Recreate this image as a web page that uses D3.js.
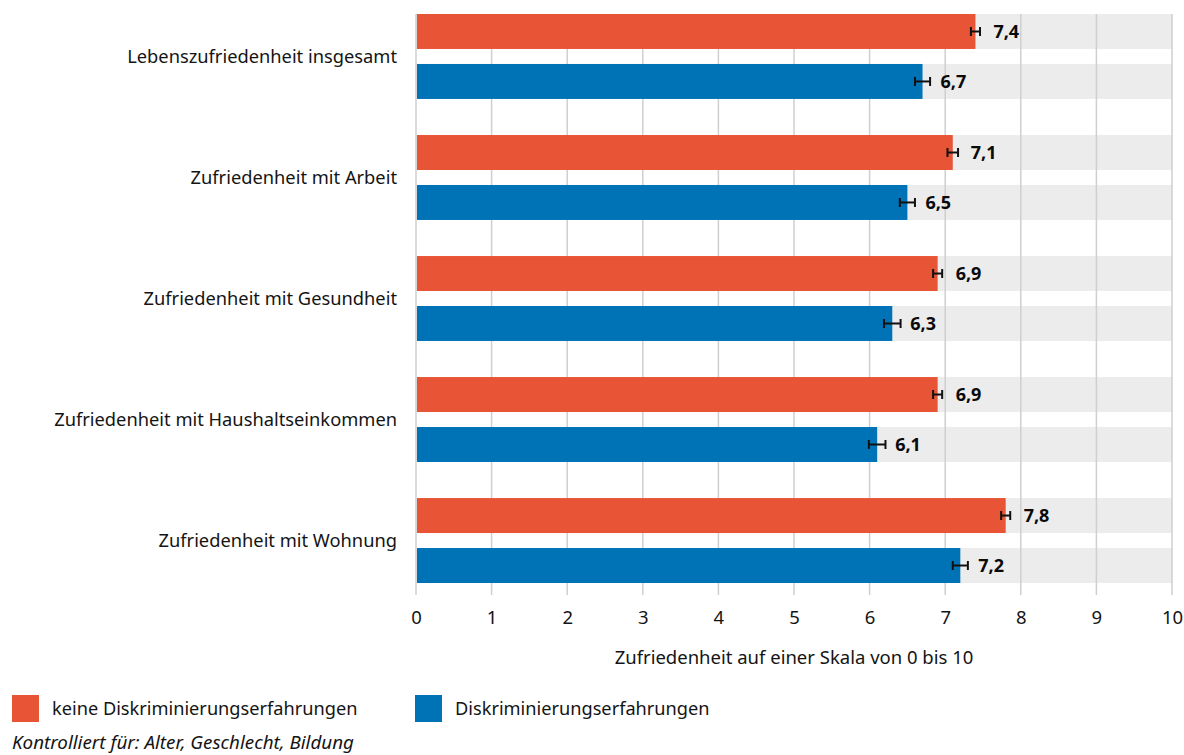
<!DOCTYPE html>
<html lang="de">
<head>
<meta charset="utf-8">
<script src="https://cdn.jsdelivr.net/npm/d3@7"></script>
<style>
  html, body { margin: 0; padding: 0; background: #fff; }
  svg { display: block; font-family: "Noto Sans", "Open Sans", sans-serif; }
</style>
</head>
<body>
<svg id="chart" width="1184" height="755"></svg>
<script>
// Zufriedenheit nach Diskriminierungserfahrung (Skala 0–10)
const categories = [
  "Lebenszufriedenheit insgesamt",
  "Zufriedenheit mit Arbeit",
  "Zufriedenheit mit Gesundheit",
  "Zufriedenheit mit Haushaltseinkommen",
  "Zufriedenheit mit Wohnung"
];
const seriesNames = ["keine Diskriminierungserfahrungen", "Diskriminierungserfahrungen"];
const seriesColors = ["#e85536", "#0073b7"];
const keineValues = [7.4, 7.1, 6.9, 6.9, 7.8];
const diskValues  = [6.7, 6.5, 6.3, 6.1, 7.2];
// Halbe Breite der Konfidenzintervalle
const keineErrors = [0.06, 0.07, 0.06, 0.06, 0.06];
const diskErrors  = [0.10, 0.10, 0.11, 0.11, 0.10];
const xTicks = [0, 1, 2, 3, 4, 5, 6, 7, 8, 9, 10];
const xTitle = "Zufriedenheit auf einer Skala von 0 bis 10";
const footnote = "Kontrolliert für: Alter, Geschlecht, Bildung";

const seriesValues = [keineValues, diskValues];
const seriesErrors = [keineErrors, diskErrors];

const rows = categories.flatMap((c, i) => seriesNames.map((s, j) => ({
  category: c, series: s, si: j,
  value: seriesValues[j][i], err: seriesErrors[j][i]
})));

const de = d3.formatLocale({ decimal: ",", thousands: ".", grouping: [3], currency: ["", " €"] });
const fmt = de.format(".1f");

const svg = d3.select("#chart");
const x = d3.scaleLinear().domain([0, 10]).range([416, 1172]);
const y0 = d3.scaleBand().domain(categories).range([14, 583]).paddingInner(0.298);
const y1 = d3.scaleBand().domain(seriesNames).range([0, y0.bandwidth()]).paddingInner(0.3);
const gridBottom = 595;
const textColor = "#141414";

// grey background bands
svg.append("g").selectAll("rect").data(rows).join("rect")
  .attr("x", x(0)).attr("width", x(10) - x(0))
  .attr("y", d => y0(d.category) + y1(d.series))
  .attr("height", y1.bandwidth())
  .attr("fill", "#ebeceb");

// vertical gridlines
svg.append("g").selectAll("line").data(xTicks).join("line")
  .attr("x1", d => x(d)).attr("x2", d => x(d))
  .attr("y1", y0.range()[0]).attr("y2", gridBottom)
  .attr("stroke", "#cfcfcf").attr("stroke-width", 1.5);

// bars
svg.append("g").selectAll("rect").data(rows).join("rect")
  .attr("x", x(0) + 1)
  .attr("width", d => x(d.value) - x(0) - 1)
  .attr("y", d => y0(d.category) + y1(d.series))
  .attr("height", y1.bandwidth())
  .attr("fill", d => seriesColors[d.si]);

// error bars
const eb = svg.append("g").attr("stroke", "#111").attr("stroke-width", 2).attr("fill", "none");
rows.forEach(d => {
  const cy = y0(d.category) + y1(d.series) + y1.bandwidth() / 2;
  const xa = x(d.value - d.err), xb = x(d.value + d.err);
  eb.append("line").attr("x1", xa).attr("x2", xb).attr("y1", cy).attr("y2", cy);
  eb.append("line").attr("x1", xa).attr("x2", xa).attr("y1", cy - 4.5).attr("y2", cy + 4.5);
  eb.append("line").attr("x1", xb).attr("x2", xb).attr("y1", cy - 4.5).attr("y2", cy + 4.5);
});

// value labels
svg.append("g").selectAll("text").data(rows).join("text")
  .attr("x", d => x(d.value) + 18)
  .attr("y", d => y0(d.category) + y1(d.series) + y1.bandwidth() / 2)
  .attr("dy", "0.36em")
  .attr("font-size", 18).attr("font-weight", 700).attr("fill", "#0a0a0a")
  .text(d => fmt(d.value));

// category labels
svg.append("g").selectAll("text").data(categories).join("text")
  .attr("x", 397)
  .attr("y", d => y0(d) + y0.bandwidth() / 2)
  .attr("dy", "0.36em")
  .attr("text-anchor", "end")
  .attr("font-size", 18.3).attr("fill", textColor)
  .text(d => d);

// x axis tick labels
const axis = d3.axisBottom(x).tickValues(xTicks).tickSize(0).tickPadding(0).tickFormat(d => d);
const ax = svg.append("g").attr("transform", `translate(0,${gridBottom})`).call(axis);
ax.select(".domain").remove();
ax.selectAll("text")
  .attr("y", 22).attr("dy", "0.36em")
  .attr("font-size", 18.5).attr("font-family", "Noto Sans, sans-serif").attr("fill", textColor);

// axis title
svg.append("text")
  .attr("x", (x(0) + x(10)) / 2).attr("y", 657).attr("dy", "0.36em")
  .attr("text-anchor", "middle").attr("font-size", 18.5).attr("fill", textColor)
  .text(xTitle);

// legend
const legendX = [12, 415];
const lg = svg.append("g").selectAll("g").data(seriesNames).join("g")
  .attr("transform", (d, i) => `translate(${legendX[i]},695)`);
lg.append("rect").attr("width", 27).attr("height", 27).attr("fill", (d, i) => seriesColors[i]);
lg.append("text").attr("x", 40).attr("y", 13.5).attr("dy", "0.36em")
  .attr("font-size", 18.2).attr("fill", textColor).text(d => d);

// footnote
svg.append("text").attr("x", 12).attr("y", 742).attr("dy", "0.36em")
  .attr("font-size", 18.8).attr("font-style", "italic").attr("fill", textColor)
  .text(footnote);
</script>
</body>
</html>
